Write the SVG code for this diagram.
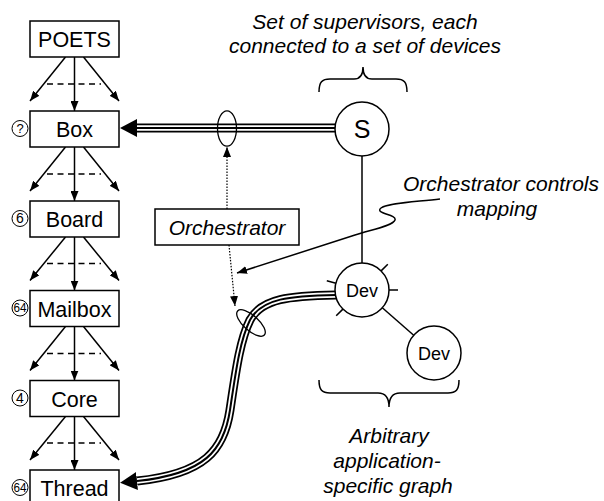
<svg xmlns="http://www.w3.org/2000/svg" width="604" height="501" viewBox="0 0 604 501">
<style>
  .box{fill:#fff;stroke:#000;stroke-width:1.5}
  .circ{fill:#fff;stroke:#000;stroke-width:1.5}
  .num{fill:#fff;stroke:#000;stroke-width:1}
  .lbl{font-family:"Liberation Sans",Arial,sans-serif;font-size:21.5px;text-anchor:middle;fill:#000}
  .it{font-family:"Liberation Sans",Arial,sans-serif;font-size:21px;font-style:italic;text-anchor:middle;fill:#000}
  .nt{font-family:"Liberation Sans",Arial,sans-serif;font-size:13px;text-anchor:middle;fill:#000}
  .ln{fill:none;stroke:#000;stroke-width:1.5}
  .arr{fill:none;stroke:#000;stroke-width:1.5;marker-end:url(#ah)}
  .dash{fill:none;stroke:#000;stroke-width:1.3;stroke-dasharray:6,4.5}
  .dot{fill:none;stroke:#000;stroke-width:1.2;stroke-dasharray:1.5,1.5;marker-end:url(#ah)}
  .t1{fill:none;stroke:#000;stroke-width:9}
  .t2{fill:none;stroke:#fff;stroke-width:5.5}
  .t3{fill:none;stroke:#000;stroke-width:2;marker-end:url(#big)}
</style>
<defs>
  <marker id="ah" viewBox="0 0 10 8" refX="10" refY="4" markerWidth="10" markerHeight="8" markerUnits="userSpaceOnUse" orient="auto"><path d="M0,0 L10,4 L0,8 z" fill="#000"/></marker>
  <marker id="big" viewBox="0 0 17 18" refX="0" refY="9" markerWidth="17" markerHeight="18" markerUnits="userSpaceOnUse" orient="auto"><path d="M0,0 L17,9 L0,18 z" fill="#000"/></marker>
</defs>

<g id="connectors">
  <path class="arr" d="M74.5,57 L74.5,111"/>
  <path class="arr" d="M65.5,57 L30,101"/>
  <path class="arr" d="M83.5,57 L119,101"/>
  <path class="dash" d="M47,84 L101,84"/>

  <path class="arr" d="M74.5,147 L74.5,201"/>
  <path class="arr" d="M65.5,147 L30,191"/>
  <path class="arr" d="M83.5,147 L119,191"/>
  <path class="dash" d="M47,174 L101,174"/>

  <path class="arr" d="M74.5,237 L74.5,290.5"/>
  <path class="arr" d="M65.5,237 L30,280.5"/>
  <path class="arr" d="M83.5,237 L119,280.5"/>
  <path class="dash" d="M47,263.5 L101,263.5"/>

  <path class="arr" d="M74.5,326.5 L74.5,380.5"/>
  <path class="arr" d="M65.5,326.5 L30,370.5"/>
  <path class="arr" d="M83.5,326.5 L119,370.5"/>
  <path class="dash" d="M47,353.5 L101,353.5"/>

  <path class="arr" d="M74.5,416.5 L74.5,470"/>
  <path class="arr" d="M65.5,416.5 L30,460"/>
  <path class="arr" d="M83.5,416.5 L119,460"/>
  <path class="dash" d="M47,443 L101,443"/>

  <path class="t1" d="M336,128 L137,128"/>
  <path class="t2" d="M336,128 L137,128"/>
  <path class="t3" d="M336,128 L137,128"/>
  <ellipse cx="227" cy="128.5" rx="9.5" ry="17.7" fill="none" stroke="#000" stroke-width="1.3"/>

  <path class="t1" d="M336,295 C290,296 262,298 250,320 C240,340 236,370 230,410 C224,450 205,474 137,481"/>
  <path class="t2" d="M336,295 C290,296 262,298 250,320 C240,340 236,370 230,410 C224,450 205,474 137,481"/>
  <path class="t3" d="M336,295 C290,296 262,298 250,320 C240,340 236,370 230,410 C224,450 205,474 137,481"/>
  <ellipse cx="251" cy="323" rx="18" ry="7.5" transform="rotate(42 251 323)" fill="none" stroke="#000" stroke-width="1.3"/>

  <path class="dot" d="M227,209 L227,147"/>
  <path class="dot" d="M229,245 L235,306"/>

  <path class="ln" d="M362,156 L362,263"/>
  <path class="ln" d="M382.3,307.8 L413.7,335.2"/>

  <path class="ln" d="M381.1,270.9 L387.8,264.2 M389,290 L398,290 M335.9,283.2 L326.8,280.8 M342.9,309.1 L336.2,315.8"/>

  <path class="arr" d="M440,199 C415,202 388,203 381,208 C374,214 397,214 395,220 C393,226 370,230 355,235 L237,273"/>

  <path class="ln" d="M319,92 C319,82 322,79 330,79 L354,79 C360,79 363,75 363,67 C363,75 366,79 372,79 L396,79 C404,79 407,82 407,92"/>
  <path class="ln" d="M319,380 C319,390 322,393 330,393 L378,393 C385,393 389,398 389,407 C389,398 393,393 400,393 L448,393 C456,393 459,390 459,380"/>
</g>

<g id="poets">
  <rect class="box" x="30" y="21" width="89" height="36"/>
  <text class="lbl" x="74.5" y="47">POETS</text>
</g>
<g id="box">
  <rect class="box" x="30" y="111" width="89" height="36"/>
  <text class="lbl" x="74.5" y="137">Box</text>
  <circle class="num" cx="20" cy="128.5" r="8"/>
  <text class="nt" x="20" y="133">?</text>
</g>
<g id="board">
  <rect class="box" x="30" y="201" width="89" height="36"/>
  <text class="lbl" x="74.5" y="227">Board</text>
  <circle class="num" cx="20" cy="218.5" r="8"/>
  <text class="nt" x="20" y="223.3" style="font-size:14px">6</text>
</g>
<g id="mailbox">
  <rect class="box" x="30" y="290.5" width="89" height="36"/>
  <text class="lbl" x="74.5" y="316.5">Mailbox</text>
  <circle class="num" cx="20" cy="308" r="8"/>
  <text class="nt" x="20" y="312.2" style="font-size:12px" textLength="13" lengthAdjust="spacingAndGlyphs">64</text>
</g>
<g id="core">
  <rect class="box" x="30" y="380.5" width="89" height="36"/>
  <text class="lbl" x="74.5" y="406.5">Core</text>
  <circle class="num" cx="20" cy="398" r="8"/>
  <text class="nt" x="20" y="402.8" style="font-size:14px">4</text>
</g>
<g id="thread">
  <rect class="box" x="30" y="470" width="89" height="36"/>
  <text class="lbl" x="74.5" y="496">Thread</text>
  <circle class="num" cx="20" cy="487.5" r="8"/>
  <text class="nt" x="20" y="491.7" style="font-size:12px" textLength="13" lengthAdjust="spacingAndGlyphs">64</text>
</g>

<g id="orchestrator">
  <rect class="box" x="155" y="209" width="144" height="36"/>
  <text class="it" x="227" y="234.5">Orchestrator</text>
</g>

<g id="supervisor">
  <circle class="circ" cx="362" cy="129" r="27"/>
  <text class="lbl" x="362" y="138" style="font-size:25px">S</text>
</g>
<g id="dev1">
  <circle class="circ" cx="362" cy="290" r="27"/>
  <text class="lbl" x="362" y="296.5" style="font-size:18px">Dev</text>
</g>
<g id="dev2">
  <circle class="circ" cx="434" cy="353" r="27"/>
  <text class="lbl" x="434" y="359.5" style="font-size:18px">Dev</text>
</g>

<g id="labels">
  <text class="it" x="365" y="29">Set of supervisors, each</text>
  <text class="it" x="365" y="53">connected to a set of devices</text>
  <text class="it" x="501" y="190.5">Orchestrator controls</text>
  <text class="it" x="497" y="216">mapping</text>
  <text class="it" x="389" y="443">Arbitrary</text>
  <text class="it" x="387" y="468">application-</text>
  <text class="it" x="388" y="493">specific graph</text>
</g>
</svg>
